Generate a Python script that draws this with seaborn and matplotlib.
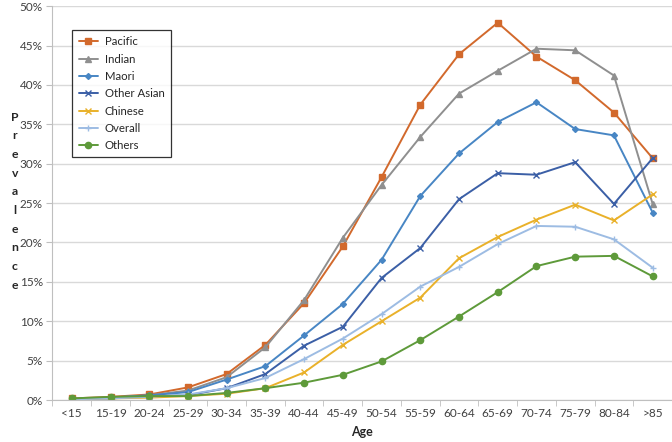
import numpy as np
import pandas as pd
import matplotlib
matplotlib.use("Agg")
import matplotlib.pyplot as plt
import seaborn as sns
from matplotlib.ticker import FuncFormatter, MultipleLocator

ages = ["<15", "15-19", "20-24", "25-29", "30-34", "35-39", "40-44", "45-49",
        "50-54", "55-59", "60-64", "65-69", "70-74", "75-79", "80-84", ">85"]

pacific = [0.2, 0.4, 0.7, 1.6, 3.3, 7.0, 12.3, 19.5, 28.3, 37.5, 43.9, 47.9, 43.6, 40.6, 36.5, 30.7]
indian = [0.1, 0.3, 0.6, 1.2, 2.9, 6.7, 12.7, 20.6, 27.3, 33.4, 38.9, 41.8, 44.6, 44.4, 41.2, 24.9]
maori = [0.1, 0.3, 0.6, 1.0, 2.6, 4.3, 8.2, 12.2, 17.8, 25.9, 31.3, 35.3, 37.8, 34.4, 33.6, 23.8]
other_asian = [0.1, 0.2, 0.5, 0.6, 1.5, 3.3, 6.9, 9.3, 15.5, 19.3, 25.5, 28.8, 28.6, 30.2, 24.9, 30.7]
chinese = [0.1, 0.2, 0.3, 0.5, 0.8, 1.5, 3.5, 7.0, 10.0, 13.0, 18.0, 20.7, 22.9, 24.8, 22.8, 26.1]
overall = [0.1, 0.2, 0.4, 0.7, 1.5, 2.8, 5.2, 7.8, 10.9, 14.4, 16.9, 19.8, 22.1, 22.0, 20.4, 16.8]
others = [0.2, 0.4, 0.5, 0.5, 0.9, 1.5, 2.2, 3.2, 4.9, 7.6, 10.6, 13.7, 17.0, 18.2, 18.3, 15.7]

groups = ["Pacific", "Indian", "Maori", "Other Asian", "Chinese", "Overall", "Others"]
series = [pacific, indian, maori, other_asian, chinese, overall, others]

colours = {"Pacific": "#D2692C", "Indian": "#8F8F8F", "Maori": "#4886C4",
           "Other Asian": "#3B5FA6", "Chinese": "#E9B12A", "Overall": "#9DBCE3",
           "Others": "#5E9A3A"}
markers = {"Pacific": "s", "Indian": "^", "Maori": "D", "Other Asian": "x",
           "Chinese": "x", "Overall": "+", "Others": "o"}
sizes = {"Pacific": 4.5, "Indian": 3.8, "Maori": 3.0, "Other Asian": 3.8,
         "Chinese": 3.8, "Overall": 3.8, "Others": 4.5}

df = pd.DataFrame([(g, a, v) for g, vals in zip(groups, series)
                   for a, v in zip(ages, vals)], columns=["group", "age", "prev"])
df["x"] = df["age"].map({a: i for i, a in enumerate(ages)})

sns.set_style("white")
plt.rcParams["font.family"] = ["Lato", "DejaVu Sans"]

fig = plt.figure(figsize=(6.72, 4.42), dpi=100)
ax = fig.add_axes([0.078, 0.095, 0.922, 0.891])

for g in groups:
    sub = df[df["group"] == g]
    sns.lineplot(data=sub, x="x", y="prev", ax=ax, color=colours[g],
                 marker=markers[g], markersize=sizes[g], markeredgewidth=1.0,
                 markeredgecolor=colours[g], linewidth=1.4, label=g, sort=False)

ax.set_xlim(-0.5, len(ages) - 0.5)
ax.set_ylim(0, 50)
ax.yaxis.set_major_locator(MultipleLocator(5))
ax.yaxis.set_major_formatter(FuncFormatter(lambda v, p: f"{v:.0f}%"))
ax.set_xticks(range(len(ages)))
ax.set_xticklabels(ages)
ax.set_xticks(np.arange(-0.5, len(ages), 1), minor=True)
ax.tick_params(axis="x", which="major", length=0, labelsize=8.5, colors="#404040", pad=6)
ax.tick_params(axis="x", which="minor", length=4, color="#BFBFBF", bottom=True)
ax.tick_params(axis="y", length=4, color="#BFBFBF", labelsize=8.5, colors="#404040",
               left=True, pad=3)
ax.grid(axis="y", color="#D9D9D9", linewidth=1)
ax.set_axisbelow(True)
for s in ["top", "right"]:
    ax.spines[s].set_visible(False)
for s in ["left", "bottom"]:
    ax.spines[s].set_color("#BFBFBF")

ax.set_xlabel("Age", fontsize=9, fontweight="bold", labelpad=5)
ax.set_ylabel("")
fig.text(0.022, 0.545, "\n".join("Prevalence"), ha="center", va="center",
         fontsize=8.8, fontweight="bold", linespacing=1.85)

leg = ax.legend(loc="upper left", bbox_to_anchor=(0.032, 0.939), borderaxespad=0,
                frameon=True, fancybox=False, edgecolor="black", fontsize=8.2,
                handlelength=1.7, handletextpad=0.6, borderpad=0.55, labelspacing=0.55)
leg.get_frame().set_linewidth(0.9)

fig.savefig("out.png", dpi=100)
